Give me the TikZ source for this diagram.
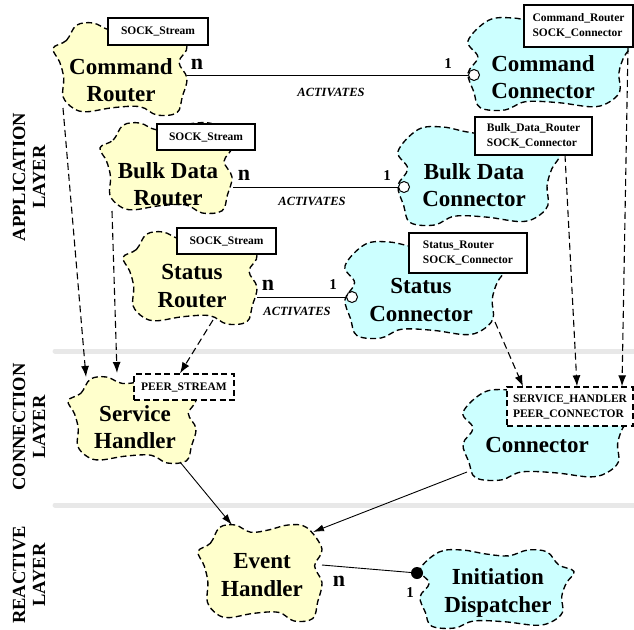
\documentclass[tikz,border=0pt]{standalone}
\usepackage{fontspec}
\setmainfont{Liberation Serif}
\usetikzlibrary{arrows.meta}

\definecolor{routerfill}{RGB}{255,255,204}
\definecolor{connfill}{RGB}{204,255,255}
\definecolor{layerrule}{RGB}{232,232,232}

\tikzset{
  cloudline/.style={draw=black, line width=1.35pt, dash pattern=on 6pt off 3.5pt},
  cloudtext/.style={font=\fontsize{23}{27.5}\selectfont\bfseries, align=center, inner sep=0pt},
  tagbox/.style={draw, fill=white, line width=1.1pt, inner sep=2pt,
    font=\fontsize{11.5}{15}\selectfont\bfseries, align=left},
  dashbox/.style={tagbox, line width=1.3pt, dash pattern=on 6pt off 3.5pt},
  depend/.style={line width=1.1pt, dash pattern=on 7pt off 4pt, -{Latex[length=11pt,width=8pt]}},
  uses/.style={line width=0.9pt, -{Latex[length=11pt,width=7pt]}},
  assoc/.style={line width=0.9pt},
  opencirc/.style={circle, draw, fill=white, line width=1pt, minimum size=11pt, inner sep=0pt},
  filledcirc/.style={circle, fill=black, minimum size=12pt, inner sep=0pt},
  multn/.style={font=\fontsize{22}{22}\selectfont\bfseries, inner sep=0pt},
  multone/.style={font=\fontsize{15}{15}\selectfont\bfseries, inner sep=0pt},
  verb/.style={font=\fontsize{12.5}{12.5}\selectfont\bfseries\itshape, inner sep=0pt},
  layerlabel/.style={font=\fontsize{18.5}{20}\selectfont\bfseries, align=center, rotate=90, inner sep=0pt},
  layersep/.style={draw=layerrule, line width=5pt, line cap=round}
}

% Booch class cloud: fill colour, centre x, centre y, half width, half height
\newcommand{\boochcloud}[5]{%
  \begin{scope}[shift={(#2,#3)}, xscale=#4, yscale=#5]
    \path[cloudline, fill=#1] plot[smooth cycle, tension=0.6] coordinates {
      (-1.00,-0.45) (-0.80,-0.62) (-0.65,-0.95) (-0.40,-1.00) (-0.15,-0.85)
      (0.15,-0.90) (0.45,-1.00) (0.75,-0.95) (1.00,-0.50) (0.88,-0.15)
      (1.00,0.20) (0.93,0.60) (0.85,0.95) (0.55,1.00) (0.30,0.82)
      (-0.10,0.84) (-0.50,0.93) (-0.70,0.85) (-0.85,0.60) (-0.84,0.20)
      (-0.90,-0.15)};
  \end{scope}}

\begin{document}
\begin{tikzpicture}[x=1pt, y=-1pt]
\useasboundingbox (0,0) rectangle (634,629);

% layer separators
\draw[layersep] (55,351) -- (634,351);
\draw[layersep] (55,505) -- (634,505);

% layer titles
\node[layerlabel] (appLayer) at (29,177) {APPLICATION\\LAYER};
\node[layerlabel] (conLayer) at (29,427) {CONNECTION\\LAYER};
\node[layerlabel] (reaLayer) at (29,575) {REACTIVE\\LAYER};

% class clouds
\boochcloud{routerfill}{120}{69}{67}{46}
\boochcloud{connfill}{550}{64}{-82}{46}
\boochcloud{routerfill}{166}{168}{66}{45}
\boochcloud{connfill}{479}{176}{-81}{49}
\boochcloud{routerfill}{190}{278}{67}{46}
\boochcloud{connfill}{425}{290}{-80}{48}
\boochcloud{routerfill}{132}{420}{64}{43}
\boochcloud{connfill}{547}{435}{-84}{45}
\boochcloud{routerfill}{260}{573}{62}{48}
\boochcloud{connfill}{497}{589}{-77}{39}

% class names
\node[cloudtext] (cmdRouter) at (121,80) {Command\\Router};
\node[cloudtext] (cmdConn) at (543,77) {Command\\Connector};
\node[cloudtext] (bulkRouter) at (168,184) {Bulk Data\\Router};
\node[cloudtext] (bulkConn) at (474,185) {Bulk Data\\Connector};
\node[cloudtext] (statRouter) at (192,286) {Status\\Router};
\node[cloudtext] (statConn) at (421,300) {Status\\Connector};
\node[cloudtext] (svcHandler) at (135,427) {Service\\Handler};
\node[cloudtext] (connector) at (537,445) {Connector};
\node[cloudtext] (evtHandler) at (262,575) {Event\\Handler};
\node[cloudtext] (initDisp) at (498,593) {Initiation\\Dispatcher};

% association end points
\coordinate (cmdRouterE) at (187,75);
\coordinate (bulkRouterE) at (233,187);
\coordinate (statRouterE) at (257,297);
\coordinate (evtHandlerE) at (322,565);
\node[opencirc] (cmdConnW) at (474,75) {};
\node[opencirc] (bulkConnW) at (404,187) {};
\node[opencirc] (statConnW) at (352,297) {};
\node[filledcirc] (initDispW) at (417,573) {};

% ACTIVATES associations
\draw[assoc] (cmdRouterE) -- (cmdConnW.west);
\draw[assoc] (bulkRouterE) -- (bulkConnW.west);
\draw[assoc] (statRouterE) -- (statConnW.west);
\draw[assoc] (evtHandlerE) -- (initDispW);

\node[multn] (n1) at (197,64) {n};
\node[multone] (o1) at (448,64) {1};
\node[verb] (v1) at (331,92) {ACTIVATES};
\node[multn] (n2) at (244,175) {n};
\node[multone] (o2) at (387,176) {1};
\node[verb] (v2) at (312,201) {ACTIVATES};
\node[multn] (n3) at (268,285) {n};
\node[multone] (o3) at (333,285) {1};
\node[verb] (v3) at (297,311) {ACTIVATES};
\node[multn] (n4) at (339,581) {n};
\node[multone] (o4) at (410,593) {1};

% parameter boxes
\node[tagbox, minimum width=100pt, minimum height=27pt, align=center] (tagCR) at (158,31.5) {SOCK\_Stream};
\node[tagbox, minimum width=98pt, minimum height=26pt, align=center] (tagBR) at (206,137) {SOCK\_Stream};
\node[tagbox, minimum width=99pt, minimum height=26pt, align=center] (tagSR) at (226.5,241) {SOCK\_Stream};
\node[tagbox, minimum width=109pt, minimum height=42pt] (tagCC) at (578.5,26) {Command\_Router\\SOCK\_Connector};
\node[tagbox, minimum width=117pt, minimum height=38pt] (tagBC) at (533.5,136) {Bulk\_Data\_Router\\SOCK\_Connector};
\node[tagbox, minimum width=118pt, minimum height=40pt] (tagSC) at (468,253) {Status\_Router\\SOCK\_Connector};
\node[dashbox, minimum width=100pt, minimum height=26pt, align=center] (tagSH) at (184,387) {PEER\_STREAM};
\node[dashbox, minimum width=126pt, minimum height=39pt] (tagCo) at (570,406.5) {SERVICE\_HANDLER\\PEER\_CONNECTOR};

% instantiation dependencies
\coordinate (cmdRouterS) at (63,108);
\coordinate (bulkRouterS) at (112,211);
\coordinate (statRouterS) at (213,320);
\coordinate (svcHandlerN1) at (86,377);
\coordinate (svcHandlerN2) at (117,373);
\coordinate (cmdConnS) at (628,47);
\coordinate (bulkConnS) at (565,155);
\coordinate (statConnS) at (495,322);
\draw[depend] (cmdRouterS) -- (svcHandlerN1);
\draw[depend] (bulkRouterS) -- (svcHandlerN2);
\draw[depend] (statRouterS) -- (tagSH.north -| 180,0);
\draw[depend] (cmdConnS) -- (tagCo.north -| 622,0);
\draw[depend] (bulkConnS) -- (tagCo.north -| 577,0);
\draw[depend] (statConnS) -- (tagCo.north -| 523,0);

% inheritance from the reactive layer
\coordinate (svcHandlerS) at (180,462);
\coordinate (connectorSW) at (467,472);
\coordinate (evtHandlerNW) at (232,525);
\coordinate (evtHandlerNE) at (313,532);
\draw[uses] (svcHandlerS) -- (evtHandlerNW);
\draw[uses] (connectorSW) -- (evtHandlerNE);
\end{tikzpicture}
\end{document}
